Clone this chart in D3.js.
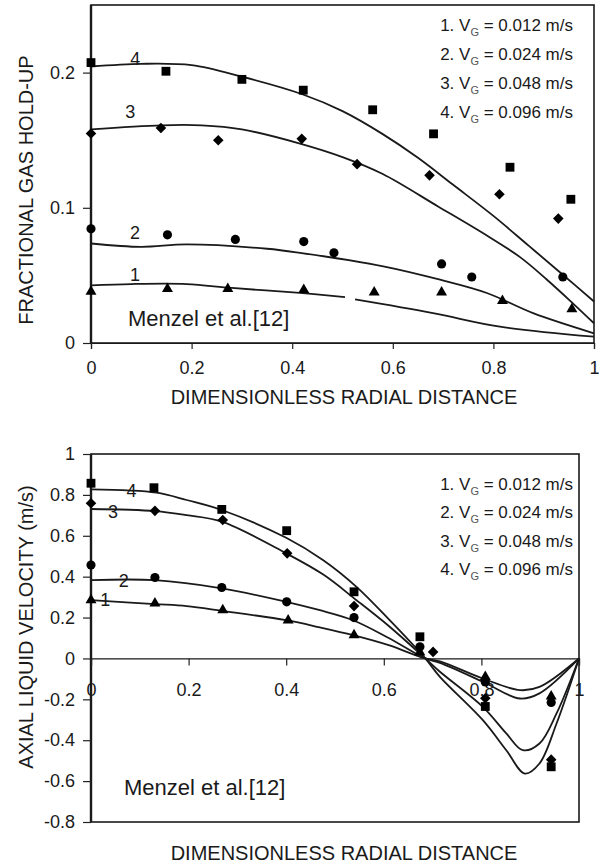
<!DOCTYPE html>
<html lang="en">
<head>
    <meta charset="UTF-8">
    <title>Gas hold-up and axial liquid velocity</title>
    <script src="https://d3js.org/d3.v7.min.js"></script>
    <style>
        body { margin: 0; background: #fff; }
        svg { display: block; font-family: "Liberation Sans", Arial, sans-serif; }
        .tick text { font-size: 18px; fill: #1a1a1a; }
        .tick line { stroke: #222; stroke-width: 1.2; }
    </style>
</head>
<body>
    <svg id="chart"></svg>
    <script>
    // ---- top panel: fractional gas hold-up (Menzel et al. data + model curves)
    const holdTriX = [0, 0.152, 0.272, 0.423, 0.563, 0.697, 0.818, 0.956];
    const holdTriY = [0.038, 0.040, 0.040, 0.0394, 0.0374, 0.0374, 0.0312, 0.025];
    const holdCirX = [0, 0.152, 0.287, 0.423, 0.483, 0.697, 0.757, 0.938];
    const holdCirY = [0.0845, 0.080, 0.0766, 0.0750, 0.0667, 0.0585, 0.0488, 0.0488];
    const holdDiaX = [0, 0.139, 0.253, 0.419, 0.529, 0.673, 0.812, 0.929];
    const holdDiaY = [0.155, 0.159, 0.150, 0.151, 0.1323, 0.124, 0.110, 0.092];
    const holdSqX = [0, 0.149, 0.30, 0.422, 0.56, 0.681, 0.833, 0.954];
    const holdSqY = [0.2074, 0.201, 0.195, 0.187, 0.1725, 0.1547, 0.130, 0.1063];

    // model curves (null = small break in the printed line)
    const holdC1X = [0, 0.08, 0.19, 0.28, 0.4155, 0.505, 0.515, 0.525, 0.68, 0.813, 1.0];
    const holdC1Y = [0.0426, 0.0436, 0.0436, 0.0407, 0.037, 0.034, null, 0.0322, 0.0221, 0.0121, 0.0047];
    const holdC2X = [0, 0.1, 0.19, 0.35, 0.4155, 0.581, 0.694, 0.787, 0.879, 1.0];
    const holdC2Y = [0.0736, 0.0711, 0.0729, 0.0697, 0.0667, 0.0567, 0.0468, 0.037, 0.0221, 0.0072];
    const holdC3X = [0, 0.14, 0.22, 0.3, 0.4155, 0.5, 0.58, 0.69, 0.787, 0.853, 0.906, 0.959, 1.0];
    const holdC3Y = [0.158, 0.161, 0.161, 0.158, 0.1475, 0.1375, 0.125, 0.101, 0.0795, 0.0635, 0.047, 0.029, 0.0146];
    const holdC4X = [0, 0.1, 0.2, 0.3, 0.42, 0.5, 0.58, 0.65, 0.72, 0.80, 0.87, 0.938, 1.0];
    const holdC4Y = [0.2045, 0.2065, 0.2055, 0.197, 0.184, 0.1715, 0.1545, 0.137, 0.117, 0.094, 0.072, 0.0505, 0.0307];
    const holdLabelX = [0.0875, 0.0875, 0.078, 0.088];
    const holdLabelY = [0.0506, 0.0818, 0.171, 0.2104];
    const holdTicksY = [0, 0.1, 0.2];

    // ---- bottom panel: axial liquid velocity
    const velTriX = [0, 0.131, 0.270, 0.404, 0.539, 0.674, 0.808, 0.943];
    const velTriY = [0.285, 0.269, 0.236, 0.187, 0.114, 0.03, -0.09, -0.185];
    const velCirX = [0, 0.131, 0.268, 0.401, 0.539, 0.674, 0.808, 0.943];
    const velCirY = [0.457, 0.396, 0.347, 0.277, 0.2, 0.057, -0.115, -0.215];
    const velDiaX = [0, 0.131, 0.270, 0.402, 0.539, 0.701, 0.808, 0.943];
    const velDiaY = [0.759, 0.722, 0.677, 0.514, 0.256, 0.032, -0.195, -0.495];
    const velSqX = [0, 0.129, 0.268, 0.401, 0.539, 0.674, 0.808, 0.943];
    const velSqY = [0.857, 0.835, 0.729, 0.625, 0.326, 0.106, -0.235, -0.53];

    const velC1X = [0, 0.131, 0.196, 0.268, 0.4, 0.469, 0.537, 0.61, 0.685, 0.715, 0.803, 0.879, 0.919, 1.0];
    const velC1Y = [0.285, 0.266, 0.256, 0.233, 0.187, 0.152, 0.114, 0.065, 0, -0.014, -0.098, -0.155, -0.139, 0];
    const velC2X = [0, 0.131, 0.268, 0.4, 0.469, 0.537, 0.61, 0.685, 0.715, 0.803, 0.879, 0.919, 1.0];
    const velC2Y = [0.383, 0.383, 0.343, 0.277, 0.236, 0.187, 0.1, 0, -0.022, -0.114, -0.196, -0.171, 0];
    const velC3X = [0, 0.131, 0.196, 0.268, 0.4, 0.476, 0.544, 0.612, 0.685, 0.715, 0.803, 0.851, 0.885, 0.919, 0.954, 1.0];
    const velC3Y = [0.731, 0.721, 0.701, 0.669, 0.514, 0.41, 0.285, 0.155, 0, -0.065, -0.237, -0.367, -0.449, -0.416, -0.269, 0];
    const velC4X = [0, 0.134, 0.196, 0.268, 0.4, 0.476, 0.544, 0.612, 0.685, 0.715, 0.803, 0.851, 0.889, 0.919, 0.954, 1.0];
    const velC4Y = [0.827, 0.811, 0.775, 0.726, 0.59, 0.48, 0.35, 0.187, 0, -0.09, -0.302, -0.449, -0.563, -0.514, -0.318, 0];
    const velLabelX = [0.029, 0.067, 0.045, 0.083];
    const velLabelY = [0.286, 0.380, 0.721, 0.820];
    const velTicksY = [-0.8, -0.6, -0.4, -0.2, 0, 0.2, 0.4, 0.6, 0.8, 1];

    const ticksX = [0, 0.2, 0.4, 0.6, 0.8, 1];
    const legendVG = ["0.012", "0.024", "0.048", "0.096"];
    const curveNames = ["1", "2", "3", "4"];

    const width = 599, height = 867;
    const ink = "#1a1a1a";
    const svg = d3.select('#chart').attr('width', width).attr('height', height);
    const fmt = d => String(+d.toFixed(1));
    const zip = (xs, ys) => xs.map((x, i) => ({ x: x, y: ys[i] }));

    // marker shapes: triangle, circle, diamond, square
    const shapes = [
        d3.symbol().type(d3.symbolTriangle).size(52),
        d3.symbol().type(d3.symbolCircle).size(66),
        d3.symbol().type(d3.symbolSquare).size(56),
        d3.symbol().type(d3.symbolSquare).size(78)
    ];
    const rotations = [0, 0, 45, 0];

    function drawPanel(p) {
        const g = svg.append('g');
        const x = d3.scaleLinear().domain([0, 1]).range([p.left, p.right]);
        const y = d3.scaleLinear().domain(p.yDomain).range([p.bottom, p.top]);

        // frame
        g.append('rect')
            .attr('x', p.left).attr('y', p.top)
            .attr('width', p.right - p.left).attr('height', p.bottom - p.top)
            .attr('fill', 'none').attr('stroke', ink).attr('stroke-width', 1.6);
        g.append('line')
            .attr('x1', p.left).attr('x2', p.left)
            .attr('y1', p.top).attr('y2', p.bottom)
            .attr('stroke', ink).attr('stroke-width', 2.4);

        // axes
        const ya = g.append('g')
            .attr('transform', `translate(${p.left},0)`)
            .call(d3.axisLeft(y).tickValues(p.yTicks).tickFormat(fmt).tickSize(8).tickPadding(8));
        ya.select('.domain').remove();
        ya.selectAll('text').attr('font-family', null);

        const xa = g.append('g')
            .attr('transform', `translate(0,${y(0)})`)
            .call(d3.axisBottom(x).tickValues(ticksX).tickFormat(fmt).tickSize(p.xTickSize).tickPadding(p.xPad));
        xa.select('.domain').attr('stroke', ink).attr('stroke-width', 1.2);
        xa.selectAll('text').attr('font-family', null);

        // model curves
        const line = d3.line()
            .defined(d => d.y !== null)
            .x(d => x(d.x)).y(d => y(d.y))
            .curve(d3.curveCatmullRom.alpha(0.5));
        p.curves.forEach(c => {
            g.append('path')
                .datum(c)
                .attr('d', line)
                .attr('fill', 'none')
                .attr('stroke', ink)
                .attr('stroke-width', 1.8);
        });

        // measured points
        p.points.forEach((pts, i) => {
            g.selectAll(null)
                .data(pts)
                .enter().append('path')
                .attr('d', shapes[i])
                .attr('transform', d => `translate(${x(d.x)},${y(d.y)}) rotate(${rotations[i]})`)
                .attr('fill', '#000');
        });

        // curve numbers
        curveNames.forEach((n, i) => {
            g.append('text')
                .attr('x', x(p.labelX[i])).attr('y', y(p.labelY[i]))
                .attr('dy', '0.36em')
                .attr('text-anchor', 'middle')
                .attr('font-size', 18).attr('fill', ink)
                .text(n);
        });

        // legend
        legendVG.forEach((v, i) => {
            const t = g.append('text')
                .attr('x', p.legendRight)
                .attr('y', p.legendTop + i * p.legendStep)
                .attr('text-anchor', 'end')
                .attr('font-size', 17).attr('fill', ink);
            t.append('tspan').text(`${i + 1}. V`);
            t.append('tspan').attr('font-size', 11).attr('dy', 5).attr('fill', '#555').text('G');
            t.append('tspan').attr('dy', -5).text(` = ${v} m/s`);
        });

        // source note
        g.append('text')
            .attr('x', p.left + p.noteDx).attr('y', p.noteY)
            .attr('font-size', 22).attr('fill', ink)
            .text('Menzel et al.[12]');

        // axis titles
        g.append('text')
            .attr('x', 344).attr('y', p.xTitleY)
            .attr('text-anchor', 'middle')
            .attr('font-size', 20).attr('fill', ink)
            .text('DIMENSIONLESS RADIAL DISTANCE');
        g.append('text')
            .attr('transform', `translate(33,${p.yTitleMid}) rotate(-90)`)
            .attr('text-anchor', 'middle')
            .attr('font-size', 20).attr('fill', ink)
            .text(p.yTitle);
    }

    drawPanel({
        left: 91, right: 594, top: 5, bottom: 343,
        yDomain: [0, 0.25], yTicks: holdTicksY,
        xTickSize: 6, xPad: 12,
        curves: [zip(holdC1X, holdC1Y), zip(holdC2X, holdC2Y), zip(holdC3X, holdC3Y), zip(holdC4X, holdC4Y)],
        points: [zip(holdTriX, holdTriY), zip(holdCirX, holdCirY), zip(holdDiaX, holdDiaY), zip(holdSqX, holdSqY)],
        labelX: holdLabelX, labelY: holdLabelY,
        legendRight: 573, legendTop: 31, legendStep: 29,
        noteDx: 37, noteY: 326,
        xTitleY: 404, yTitleMid: 190,
        yTitle: 'FRACTIONAL GAS HOLD-UP'
    });

    drawPanel({
        left: 91, right: 579, top: 454, bottom: 822,
        yDomain: [-0.8, 1], yTicks: velTicksY,
        xTickSize: 7, xPad: 18,
        curves: [zip(velC1X, velC1Y), zip(velC2X, velC2Y), zip(velC3X, velC3Y), zip(velC4X, velC4Y)],
        points: [zip(velTriX, velTriY), zip(velCirX, velCirY), zip(velDiaX, velDiaY), zip(velSqX, velSqY)],
        labelX: velLabelX, labelY: velLabelY,
        legendRight: 573, legendTop: 490, legendStep: 28.3,
        noteDx: 33, noteY: 795,
        xTitleY: 860, yTitleMid: 627,
        yTitle: 'AXIAL LIQUID VELOCITY (m/s)'
    });
    </script>
</body>
</html>
